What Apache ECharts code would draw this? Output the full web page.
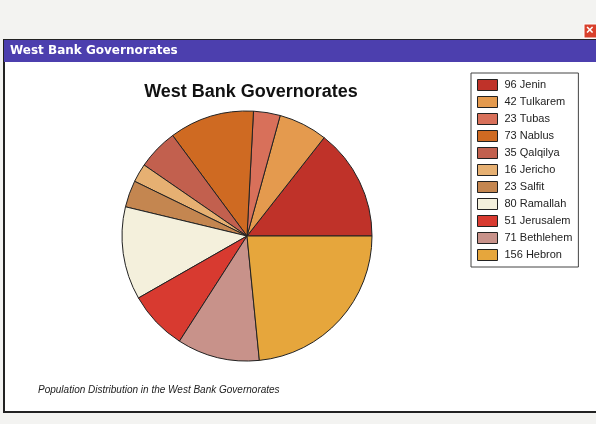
<!DOCTYPE html>
<html>
<head>
<meta charset="utf-8">
<script src="https://cdn.jsdelivr.net/npm/echarts@6/dist/echarts.min.js"></script>
<style>
  html, body { margin: 0; padding: 0; background: #f3f3f1; }
  #chart { width: 596px; height: 424px; }
</style>
</head>
<body>
<div id="chart"></div>
<script>
// governorates in legend order, populations (thousands)
var governorates = ['Jenin', 'Tulkarem', 'Tubas', 'Nablus', 'Qalqilya', 'Jericho', 'Salfit', 'Ramallah', 'Jerusalem', 'Bethlehem', 'Hebron'];
var population = [96, 42, 23, 73, 35, 16, 23, 80, 51, 71, 156];
var sliceColors = ['#bf3229', '#e49a4e', '#d8705a', '#cf6a22', '#c2604e', '#e6b072', '#c48650', '#f4f0dc', '#d83a30', '#c8928a', '#e6a63c'];

var pieData = governorates.map(function (name, i) {
  return { name: name, value: population[i], itemStyle: { color: sliceColors[i] } };
});

var chart = echarts.init(document.getElementById('chart'));

var option = {
  backgroundColor: '#f3f3f1',
  animation: false,
  textStyle: { fontFamily: 'Liberation Sans, Arial, sans-serif' },
  graphic: [
    // window body
    { type: 'rect', shape: { x: 4, y: 40, width: 600, height: 372 }, style: { fill: '#ffffff', stroke: '#222', lineWidth: 2 }, z: -10 },
    // title bar
    { type: 'rect', shape: { x: 4, y: 40, width: 600, height: 22 }, style: { fill: '#4c3fae' }, z: -9 },
    { type: 'text', left: 10, top: 45, style: { text: 'West Bank Governorates', fill: '#fff', font: 'bold 12px "DejaVu Sans", sans-serif' } },
    // close button
    { type: 'rect', shape: { x: 584, y: 24, width: 14, height: 14 }, style: { fill: '#d8402c', stroke: '#fff', lineWidth: 1 } },
    { type: 'text', left: 586, top: 24, style: { text: '×', fill: '#fff', font: 'bold 13px sans-serif' } },
    // footnote
    { type: 'text', left: 38, top: 385, style: { text: 'Population Distribution in the West Bank Governorates', fill: '#222', font: 'italic 10px "Liberation Sans", Arial, sans-serif' } }
  ],
  title: {
    text: 'West Bank Governorates',
    left: 246,
    top: 78,
    textAlign: 'center',
    textStyle: { fontSize: 18, fontWeight: 'bold', color: '#111' }
  },
  legend: {
    orient: 'vertical',
    left: 471,
    top: 73,
    width: 112,
    padding: [6, 6, 6, 6],
    itemGap: 5,
    itemWidth: 20,
    itemHeight: 11,
    icon: 'rect',
    borderColor: '#444',
    borderWidth: 1,
    backgroundColor: '#fff',
    itemStyle: { borderColor: '#222', borderWidth: 1 },
    textStyle: { fontSize: 11, color: '#222', padding: [0, 0, 0, 2] },
    formatter: function (name) {
      return population[governorates.indexOf(name)] + ' ' + name;
    },
    data: governorates
  },
  series: [{
    type: 'pie',
    center: [247, 236],
    radius: 125,
    startAngle: 0,
    clockwise: false,
    label: { show: false },
    labelLine: { show: false },
    emphasis: { disabled: true },
    itemStyle: { borderColor: '#222', borderWidth: 1 },
    data: pieData
  }]
};

chart.setOption(option);
</script>
</body>
</html>
